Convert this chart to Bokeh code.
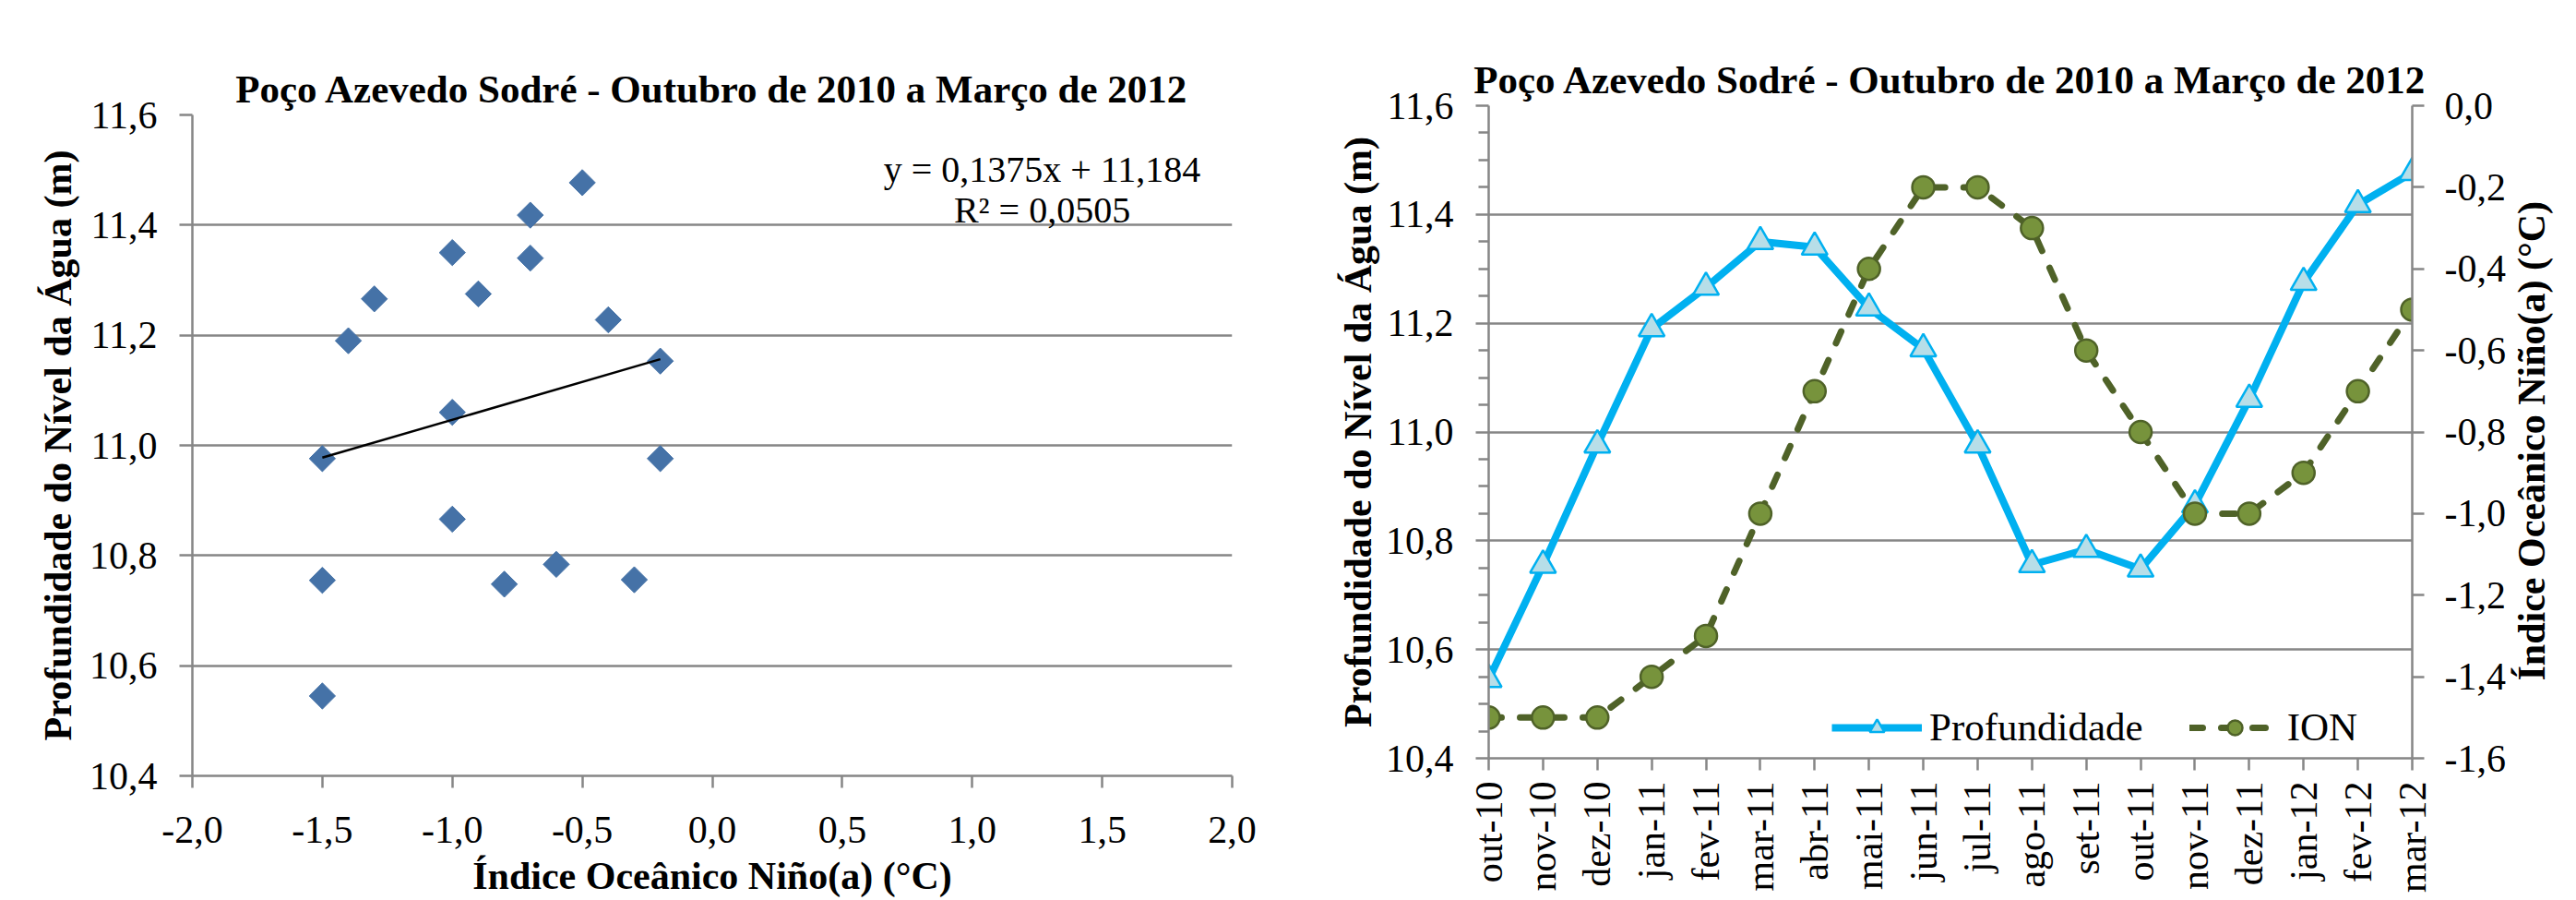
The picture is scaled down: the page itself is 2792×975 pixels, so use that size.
import numpy as np
from bokeh.plotting import figure
from bokeh.models import Range1d, LinearAxis, FixedTicker, Label, Legend, LegendItem
from bokeh.layouts import row, column
from bokeh.embed import file_html
from bokeh.resources import INLINE

# ---------------- data ----------------
meses = ["out-10", "nov-10", "dez-10", "jan-11", "fev-11", "mar-11", "abr-11",
         "mai-11", "jun-11", "jul-11", "ago-11", "set-11", "out-11", "nov-11",
         "dez-11", "jan-12", "fev-12", "mar-12"]
profundidade = [10.545, 10.755, 10.976, 11.190, 11.266, 11.350, 11.340, 11.228,
                11.153, 10.976, 10.756, 10.784, 10.748, 10.866, 11.060, 11.275,
                11.418, 11.477]
ion = [-1.5, -1.5, -1.5, -1.4, -1.3, -1.0, -0.7, -0.4, -0.2, -0.2, -0.3, -0.6,
       -0.8, -1.0, -1.0, -0.9, -0.7, -0.5]
trend_slope = 0.1375
trend_intercept = 11.184
r_quadrado = "0,0505"

prof_ticks = [10.4, 10.6, 10.8, 11.0, 11.2, 11.4, 11.6]
prof_tick_labels = ["10,4", "10,6", "10,8", "11,0", "11,2", "11,4", "11,6"]
prof_minor_ticks = [10.45, 10.5, 10.55, 10.65, 10.7, 10.75, 10.85, 10.9, 10.95,
                    11.05, 11.1, 11.15, 11.25, 11.3, 11.35, 11.45, 11.5, 11.55]
ion_x_ticks = [-2.0, -1.5, -1.0, -0.5, 0.0, 0.5, 1.0, 1.5, 2.0]
ion_x_tick_labels = ["-2,0", "-1,5", "-1,0", "-0,5", "0,0", "0,5", "1,0", "1,5", "2,0"]
ion_y_ticks = [-1.6, -1.4, -1.2, -1.0, -0.8, -0.6, -0.4, -0.2, 0.0]
ion_y_tick_labels = ["-1,6", "-1,4", "-1,2", "-1,0", "-0,8", "-0,6", "-0,4", "-0,2", "0,0"]

titulo = "Poço Azevedo Sodré - Outubro de 2010 a Março de 2012"
label_prof = "Profundidade do Nível da Água (m)"
label_ion = "Índice Oceânico Niño(a) (°C)"

# ---------------- style ----------------
FONT = "Liberation Serif"
GRID = "#868686"
BLUE = "#4572A7"
CYAN = "#00B0F0"
CYAN_FILL = "#B7DEE8"
OLIVE = "#4F6228"
OLIVE_FILL = "#77933C"
TICK_FS = "42px"
LABEL_FS = "42px"


def style_axis(ax, tick_out=13, standoff=24, label_standoff=6):
    ax.axis_line_color = GRID
    ax.axis_line_width = 2.5
    ax.major_tick_line_color = GRID
    ax.major_tick_line_width = 2.5
    ax.major_tick_out = tick_out
    ax.major_tick_in = 0
    ax.minor_tick_out = 0
    ax.minor_tick_in = 0
    ax.major_label_text_font = FONT
    ax.major_label_text_font_size = TICK_FS
    ax.major_label_text_color = "black"
    ax.major_label_standoff = standoff
    ax.axis_label_text_font = FONT
    ax.axis_label_text_font_size = LABEL_FS
    ax.axis_label_text_font_style = "bold"
    ax.axis_label_text_color = "black"
    ax.axis_label_standoff = label_standoff


def style_title(p):
    p.title.text = titulo
    p.title.align = "center"
    p.title.text_font = FONT
    p.title.text_font_size = "43px"
    p.title.text_font_style = "bold"
    p.title.text_color = "black"


# ---------------- left: scatter ----------------
p1 = figure(width=1400, height=975, x_range=Range1d(-2, 2), y_range=Range1d(10.4, 11.6),
            output_backend="svg", toolbar_location=None,
            min_border_left=208, min_border_right=65, min_border_top=124,
            min_border_bottom=135)
p1.outline_line_color = None
style_title(p1)

p1.xaxis.ticker = FixedTicker(ticks=ion_x_ticks)
p1.xaxis.major_label_overrides = dict(zip(ion_x_ticks, ion_x_tick_labels))
p1.yaxis.ticker = FixedTicker(ticks=prof_ticks)
p1.yaxis.major_label_overrides = dict(zip(prof_ticks, prof_tick_labels))
style_axis(p1.xaxis[0], tick_out=13, standoff=31, label_standoff=10)
style_axis(p1.yaxis[0], tick_out=14, standoff=24, label_standoff=8)
p1.xaxis.axis_label = label_ion
p1.yaxis.axis_label = label_prof
p1.xgrid.visible = False
p1.ygrid.grid_line_color = GRID
p1.ygrid.grid_line_width = 2.5

p1.scatter(ion, profundidade, marker="square", angle=np.pi / 4, size=20,
           fill_color=BLUE, line_color=BLUE)
tx = [min(ion), max(ion)]
ty = [trend_slope * v + trend_intercept for v in tx]
p1.line(tx, ty, line_color="black", line_width=2.5)

eq1 = "y = " + f"{trend_slope:.4f}".replace(".", ",") + "x + " + f"{trend_intercept:.3f}".replace(".", ",")
eq2 = "R² = " + r_quadrado
for txt, yy in [(eq1, 11.501), (eq2, 11.427)]:
    p1.add_layout(Label(x=1.269, y=yy, text=txt, text_align="center",
                        text_baseline="alphabetic", text_font=FONT,
                        text_font_size="40px", text_color="black"))

# ---------------- right: time series ----------------
xi = list(range(len(meses)))
p2 = figure(width=1392, height=975, x_range=Range1d(0, len(meses) - 1),
            y_range=Range1d(10.4, 11.6), output_backend="svg", toolbar_location=None,
            min_border_left=213, min_border_right=174, min_border_top=114,
            min_border_bottom=154)
p2.outline_line_color = None
style_title(p2)
p2.extra_y_ranges = {"ion": Range1d(-1.6, 0.0)}

ax_left = p2.left[0]
ax_left.ticker = FixedTicker(ticks=prof_ticks, minor_ticks=prof_minor_ticks)
ax_left.major_label_overrides = dict(zip(prof_ticks, prof_tick_labels))
style_axis(ax_left, tick_out=14, standoff=24, label_standoff=4)
ax_left.minor_tick_out = 11
ax_left.minor_tick_line_color = GRID
ax_left.minor_tick_line_width = 2.5
ax_left.axis_label = label_prof

ax_right = LinearAxis(y_range_name="ion", ticker=FixedTicker(ticks=ion_y_ticks))
ax_right.major_label_overrides = dict(zip(ion_y_ticks, ion_y_tick_labels))
style_axis(ax_right, tick_out=13, standoff=22, label_standoff=25)
# read bottom-to-top (as in the reference): the label starts at the lower end
# of the axis, so it is padded with no-break spaces to sit centred on the axis
ax_right.axis_label = "\u00a0" * 8 + label_ion
ax_right.axis_label_orientation = np.pi / 2
ax_right.axis_label_align = "start"
p2.add_layout(ax_right, "right")

ax_bot = p2.below[0]
ax_bot.ticker = FixedTicker(ticks=xi)
ax_bot.major_label_overrides = dict(zip(xi, meses))
style_axis(ax_bot, tick_out=13, standoff=12)
ax_bot.major_label_orientation = np.pi / 2

p2.xgrid.visible = False
p2.ygrid.grid_line_color = GRID
p2.ygrid.grid_line_width = 2.5

l1 = p2.line(xi, profundidade, line_color=CYAN, line_width=8)
m1 = p2.scatter(xi, profundidade, marker="triangle", size=28, fill_color=CYAN_FILL,
                line_color=CYAN, line_width=2.5)
l2 = p2.line(xi, ion, y_range_name="ion", line_color=OLIVE, line_width=7,
             line_dash="14 20", line_cap="round")
m2 = p2.scatter(xi, ion, y_range_name="ion", marker="circle", size=24,
                fill_color=OLIVE_FILL, line_color=OLIVE, line_width=2.5)

legend = Legend(items=[LegendItem(label="Profundidade", renderers=[l1, m1]),
                       LegendItem(label="ION", renderers=[l2, m2])],
                orientation="horizontal", location=(372, 9),
                glyph_width=98, glyph_height=40, spacing=50, label_standoff=8,
                padding=0, margin=0,
                label_text_font=FONT, label_text_font_size="43px",
                label_text_color="black",
                background_fill_alpha=0, border_line_alpha=0)
p2.add_layout(legend)

layout = row(column(p1), column(p2))
open("out.html", "w").write(file_html(layout, INLINE))
